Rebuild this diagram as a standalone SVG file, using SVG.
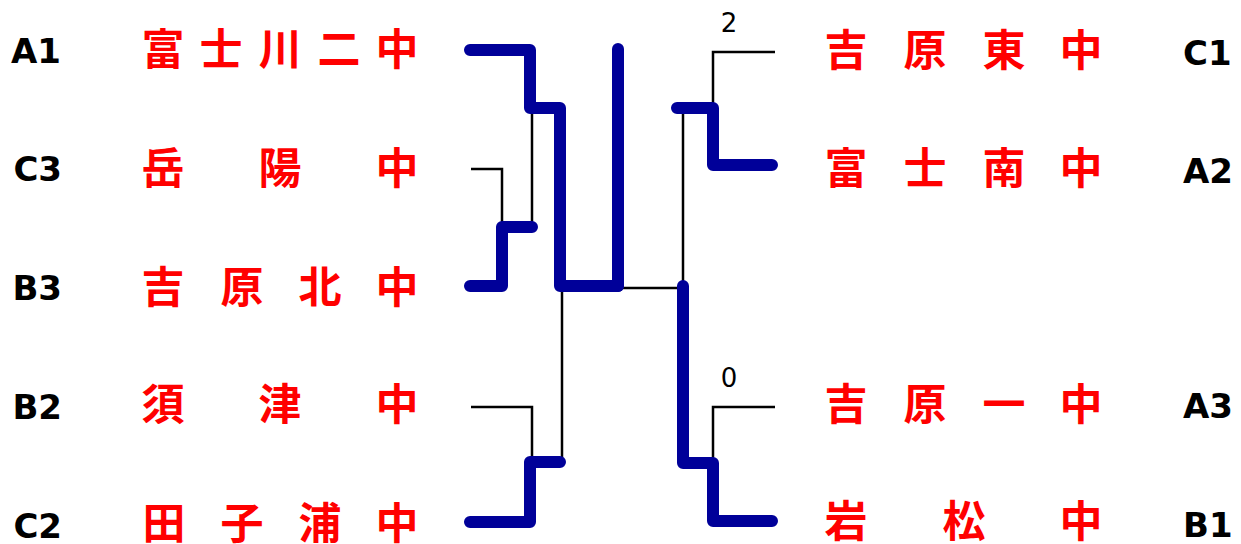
<svg xmlns="http://www.w3.org/2000/svg" width="1241" height="544" viewBox="0 0 1241 544">
<style>
.lbl{font-family:"DejaVu Sans","Verdana",sans-serif;font-weight:bold;font-size:34px;fill:#000}
.team{font-family:"Noto Sans CJK JP","Noto Sans CJK SC",sans-serif;font-weight:bold;font-size:43px;fill:#ff0000;text-anchor:middle}
.score{font-family:"DejaVu Sans","Verdana",sans-serif;font-size:26px;fill:#000;text-anchor:middle}
.thin{fill:none;stroke:#000;stroke-width:2.5}
.win{fill:none;stroke:#000099;stroke-width:12;stroke-linecap:round;stroke-linejoin:round}
</style>
<rect width="1241" height="544" fill="#fff"/>
<g id="connectors">
<path class="thin" d="M532,108 V227"/>
<path class="thin" d="M471,169 H502 V227"/>
<path class="thin" d="M562,286 V462"/>
<path class="thin" d="M471,407 H532 V462"/>
<path class="thin" d="M618,288 H683"/>
<path class="thin" d="M683,108 V286"/>
<path class="thin" d="M775,52 H713 V108"/>
<path class="thin" d="M775,407 H713 V463"/>
<path class="win" d="M470,50 H530 V108 H560 V286 H618"/>
<path class="win" d="M618,286 V49"/>
<path class="win" d="M470,286 H502 V227 H532"/>
<path class="win" d="M470,522 H530 V462 H560"/>
<path class="win" d="M677,108 H713 V165 H772"/>
<path class="win" d="M683,286 V463 H713 V521 H772"/>
<text class="score" x="729" y="32">2</text>
<text class="score" x="729" y="387">0</text>
</g>
<g id="A1"><text class="lbl" x="61" y="63" text-anchor="end">A1</text><text class="team" x="163 221 280 339 397" y="65">富士川二中</text></g>
<g id="C3"><text class="lbl" x="62" y="181" text-anchor="end">C3</text><text class="team" x="163 280 397" y="184">岳陽中</text></g>
<g id="B3"><text class="lbl" x="62" y="300" text-anchor="end">B3</text><text class="team" x="163 242 320 397" y="303">吉原北中</text></g>
<g id="B2"><text class="lbl" x="62" y="419" text-anchor="end">B2</text><text class="team" x="163 280 397" y="420">須津中</text></g>
<g id="C2"><text class="lbl" x="62" y="538" text-anchor="end">C2</text><text class="team" x="164 242 320 397" y="539">田子浦中</text></g>
<g id="C1"><text class="team" x="846 925 1004 1081" y="66">吉原東中</text><text class="lbl" x="1183" y="65">C1</text></g>
<g id="A2"><text class="team" x="846 925 1004 1081" y="184">富士南中</text><text class="lbl" x="1183" y="183">A2</text></g>
<g id="A3"><text class="team" x="846 925 1004 1081" y="420">吉原一中</text><text class="lbl" x="1183" y="418">A3</text></g>
<g id="B1"><text class="team" x="846 964 1081" y="537">岩松中</text><text class="lbl" x="1183" y="537">B1</text></g>
</svg>
